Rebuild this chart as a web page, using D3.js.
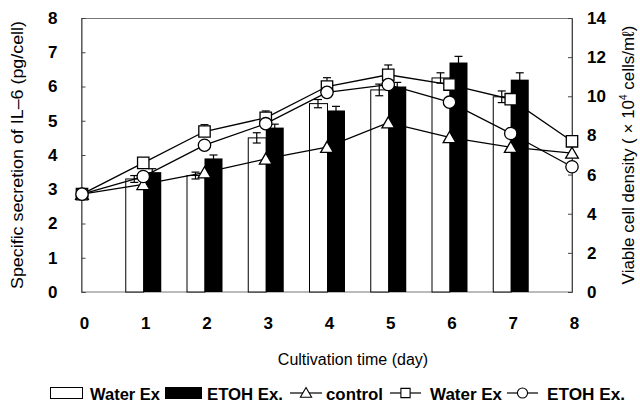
<!DOCTYPE html>
<html>
<head>
<meta charset="utf-8">
<script src="https://cdn.jsdelivr.net/npm/d3@7/dist/d3.min.js"></script>
<style>
  html, body { margin: 0; padding: 0; background: #fff; }
  svg { display: block; font-family: "Liberation Sans", Arial, sans-serif; }
</style>
</head>
<body>
<svg id="chart" width="640" height="405"></svg>
<script>
// Cultivation days
const days = [0, 1, 2, 3, 4, 5, 6, 7, 8];
const barDays = [1, 2, 3, 4, 5, 6, 7];

// Specific secretion of IL-6 (pg/cell), left axis – bars
const waterBar = [3.3, 3.4, 4.5, 5.5, 5.9, 6.25, 5.7];
const waterBarErr = [0.1, 0.1, 0.15, 0.12, 0.17, 0.15, 0.17];
const etohBar = [3.5, 3.9, 4.8, 5.3, 6.0, 6.7, 6.2];
const etohBarErr = [0.1, 0.1, 0.1, 0.12, 0.12, 0.18, 0.2];

// Viable cell density (x10^4 cells/ml), right axis – lines
const controlLine = [5.0, 5.5, 6.1, 6.8, 7.4, 8.65, 7.9, 7.4, 7.1];
const waterLine = [5.0, 6.6, 8.2, 8.9, 10.5, 11.1, 10.6, 9.85, 7.7];
const waterLineErr = [0, 0.1, 0.35, 0.35, 0.45, 0.5, 0.2, 0.2, 0.1];
const etohLine = [5.0, 5.9, 7.5, 8.6, 10.2, 10.6, 9.7, 8.1, 6.4];

// Axis ticks
const leftTicks = [0, 1, 2, 3, 4, 5, 6, 7, 8];
const rightTicks = [0, 2, 4, 6, 8, 10, 12, 14];

const svg = d3.select("#chart");

const x = d3.scaleLinear().domain([0, 8]).range([82, 572]);
const yL = d3.scaleLinear().domain([0, 8]).range([292, 18]);
const yR = d3.scaleLinear().domain([0, 14]).range([292, 18]);

const barW = 18;

// Frame
svg.append("rect")
  .attr("x", 81.5).attr("y", 18.5)
  .attr("width", 572 - 81.5).attr("height", 292 - 18.5)
  .attr("fill", "none").attr("stroke", "#777").attr("stroke-width", 1);

// Axes
const axL = svg.append("g").attr("transform", "translate(81.5,0)")
  .call(d3.axisLeft(yL).tickValues(leftTicks).tickSize(-4).tickPadding(24).tickFormat(d3.format("d")));
const axR = svg.append("g").attr("transform", "translate(572,0)")
  .call(d3.axisRight(yR).tickValues(rightTicks).tickSize(-4).tickPadding(15).tickFormat(d3.format("d")));
const axB = svg.append("g").attr("transform", "translate(2,292)")
  .call(d3.axisBottom(x).tickValues(days).tickSize(0).tickPadding(25).tickFormat(d3.format("d")));

[axL, axR, axB].forEach(g => {
  g.select(".domain").attr("stroke", "#444");
  g.selectAll(".tick line").attr("stroke", "#444");
  g.selectAll(".tick text")
    .attr("font-family", "'Liberation Sans', Arial, sans-serif")
    .attr("font-size", 17).attr("font-weight", "bold").attr("fill", "#000");
});
axB.select(".domain").remove();

// Bars: water extract (white) and ethanol extract (black)
svg.append("g").selectAll("rect")
  .data(barDays.map((d, i) => ({ d, v: waterBar[i] })))
  .join("rect")
  .attr("x", p => x(p.d) - barW + 0.5)
  .attr("y", p => yL(p.v))
  .attr("width", barW)
  .attr("height", p => yL(0) - yL(p.v))
  .attr("fill", "#fff").attr("stroke", "#000").attr("stroke-width", 1);

svg.append("g").selectAll("rect")
  .data(barDays.map((d, i) => ({ d, v: etohBar[i] })))
  .join("rect")
  .attr("x", p => x(p.d))
  .attr("y", p => yL(p.v))
  .attr("width", barW)
  .attr("height", p => yL(0) - yL(p.v))
  .attr("fill", "#000");

// Error bar helper
function errorBars(g, pts, cap) {
  const e = g.selectAll("g").data(pts).join("g").attr("stroke", "#000").attr("stroke-width", 1.2);
  e.append("line").attr("x1", p => p.cx).attr("x2", p => p.cx).attr("y1", p => p.lo).attr("y2", p => p.hi);
  e.append("line").attr("x1", p => p.cx - cap).attr("x2", p => p.cx + cap).attr("y1", p => p.hi).attr("y2", p => p.hi);
  e.append("line").attr("x1", p => p.cx - cap).attr("x2", p => p.cx + cap).attr("y1", p => p.lo).attr("y2", p => p.lo);
}
errorBars(svg.append("g"), barDays.map((d, i) => ({
  cx: x(d) - barW / 2, lo: yL(waterBar[i] - waterBarErr[i]), hi: yL(waterBar[i] + waterBarErr[i])
})), 4);
errorBars(svg.append("g"), barDays.map((d, i) => ({
  cx: x(d) + barW / 2, lo: yL(etohBar[i] - etohBarErr[i]), hi: yL(etohBar[i] + etohBarErr[i])
})), 4);
errorBars(svg.append("g"), days.filter((d, i) => waterLineErr[i] > 0).map(d => ({
  cx: x(d), lo: yR(waterLine[d]), hi: yR(waterLine[d] + waterLineErr[d])
})), 4);

// Lines
const line = d3.line().x((v, i) => x(days[i])).y(v => yR(v));
[controlLine, waterLine, etohLine].forEach(s => {
  svg.append("path").attr("d", line(s))
    .attr("fill", "none").attr("stroke", "#000").attr("stroke-width", 1.3);
});

// Markers
const sym = {
  triangle: d3.symbol().type(d3.symbolTriangle).size(70),
  square: d3.symbol().type(d3.symbolSquare).size(130),
  circle: d3.symbol().type(d3.symbolCircle).size(120)
};
function markers(series, s) {
  svg.append("g").selectAll("path").data(series).join("path")
    .attr("d", sym[s]())
    .attr("transform", (v, i) => `translate(${x(days[i])},${yR(v) + (s === "triangle" ? 1.5 : 0)})`)
    .attr("fill", "#fff").attr("stroke", "#000").attr("stroke-width", 1.3);
}
markers(controlLine, "triangle");
markers(waterLine, "square");
markers(etohLine, "circle");

// Axis titles
svg.append("text")
  .attr("transform", "translate(23,155) rotate(-90)")
  .attr("text-anchor", "middle").attr("font-size", 17)
  .attr("textLength", 268).attr("lengthAdjust", "spacingAndGlyphs")
  .text("Specific secretion of IL–6 (pg/cell)");

const rt = svg.append("text")
  .attr("transform", "translate(634,155) rotate(-90)")
  .attr("text-anchor", "middle").attr("font-size", 17);
rt.append("tspan").text("Viable cell density ( × 10");
rt.append("tspan").attr("font-size", 10).attr("dy", -7).text("4");
rt.append("tspan").attr("dy", 7).text(" cells/mℓ)");

svg.append("text")
  .attr("x", 353).attr("y", 365)
  .attr("text-anchor", "middle").attr("font-size", 16)
  .text("Cultivation time (day)");

// Legend
const lg = svg.append("g");
const ly = 393;
lg.append("rect").attr("x", 50.5).attr("y", 387.5).attr("width", 32).attr("height", 11)
  .attr("fill", "#fff").attr("stroke", "#000");
lg.append("rect").attr("x", 165).attr("y", 387).attr("width", 37).attr("height", 12).attr("fill", "#000");

const legendLabels = [
  { t: "Water Ex", x: 90, w: 70 },
  { t: "ETOH Ex.", x: 207, w: 76 },
  { t: "control", x: 326, w: 57 },
  { t: "Water Ex", x: 430, w: 72 },
  { t: "ETOH Ex.", x: 547, w: 78 }
];
lg.selectAll("text").data(legendLabels).join("text")
  .attr("x", d => d.x).attr("y", ly + 6.5)
  .attr("font-size", 17).attr("font-weight", "bold")
  .attr("textLength", d => d.w).attr("lengthAdjust", "spacingAndGlyphs")
  .text(d => d.t);

const legendLines = [
  { x1: 290, x2: 322, s: "triangle" },
  { x1: 390, x2: 421, s: "square" },
  { x1: 507, x2: 538, s: "circle" }
];
legendLines.forEach(d => {
  lg.append("line").attr("x1", d.x1).attr("x2", d.x2).attr("y1", ly).attr("y2", ly)
    .attr("stroke", "#000").attr("stroke-width", 1.2);
  const sz = d.s === "triangle" ? 55 : d.s === "square" ? 85 : 80;
  lg.append("path")
    .attr("d", d3.symbol().type(d.s === "triangle" ? d3.symbolTriangle : d.s === "square" ? d3.symbolSquare : d3.symbolCircle).size(sz)())
    .attr("transform", `translate(${(d.x1 + d.x2) / 2},${ly + (d.s === "triangle" ? 1 : 0)})`)
    .attr("fill", "#fff").attr("stroke", "#000").attr("stroke-width", 1.1);
});
</script>
</body>
</html>
